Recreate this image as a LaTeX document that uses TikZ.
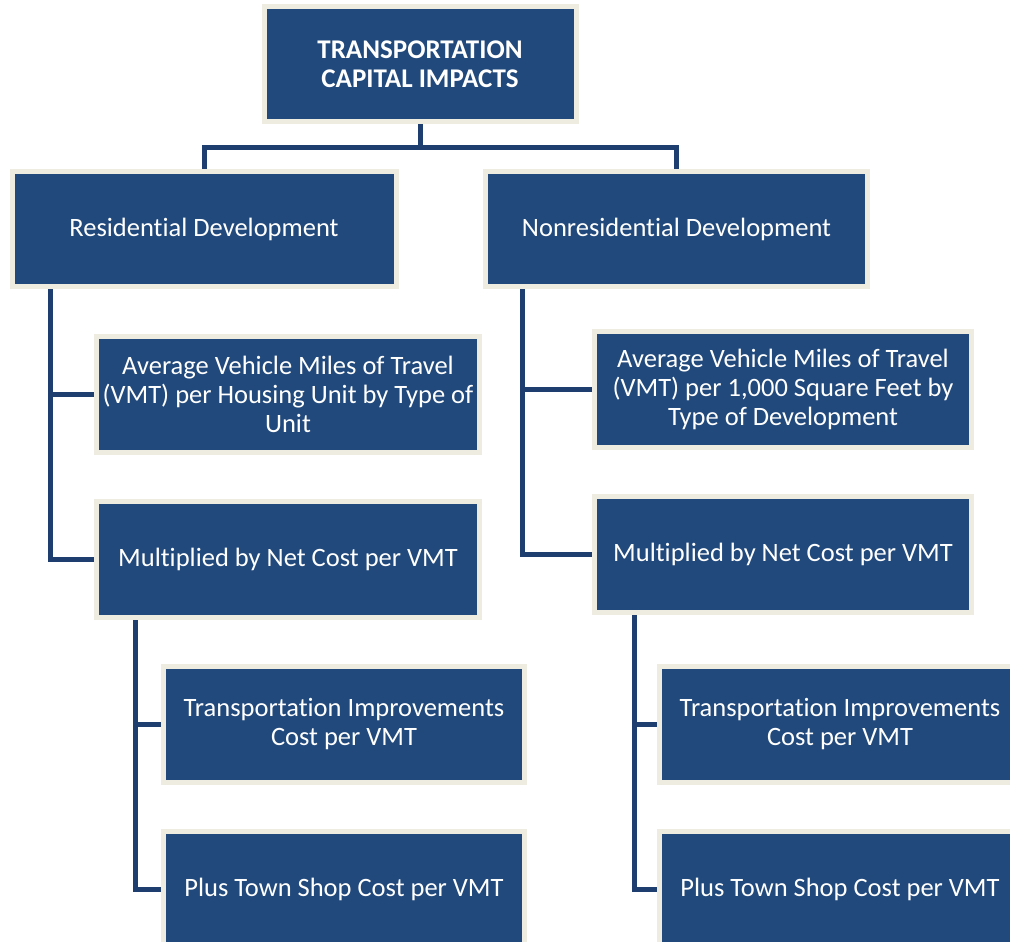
\documentclass[tikz,border=0pt]{standalone}
\usepackage{fontspec}
\setmainfont{Carlito}[RawFeature={-liga;-clig;-calt;-dlig}]
\usetikzlibrary{backgrounds}
\definecolor{boxblue}{RGB}{33,73,124}
\definecolor{boxrim}{RGB}{238,236,225}
\definecolor{linkblue}{RGB}{30,62,112}
\begin{document}
\begin{tikzpicture}[x=1pt,y=-1pt,
  box/.style={draw=boxrim, line width=5pt, fill=boxblue, text=white, align=center, inner sep=0pt,
    font=\fontsize{26.5}{29}\selectfont},
  titlebox/.style={box, font=\fontsize{27}{28.5}\selectfont\bfseries},
  link/.style={draw=linkblue, line width=5pt}]
\useasboundingbox (0,0) rectangle (1010,942);
\clip (0,0) rectangle (1010,942);

\node[titlebox, minimum width=312pt, minimum height=115.5pt] (top) at (420,64) {TRANSPORTATION\\CAPITAL IMPACTS};

\node[box, minimum width=384pt, minimum height=115.5pt] (res) at (204,229) {Residential Development};
\node[box, minimum width=382pt, minimum height=115.5pt] (nonres) at (676.5,229) {Nonresidential Development};

\node[box, minimum width=383pt, minimum height=116pt] (vmtL) at (288,394.5) {Average Vehicle Miles of Travel\\(VMT) per Housing Unit by Type of\\Unit};
\node[box, minimum width=383pt, minimum height=116pt] (mulL) at (288,559.5) {Multiplied by Net Cost per VMT};

\node[box, minimum width=377pt, minimum height=116pt] (vmtR) at (783,389.5) {Average Vehicle Miles of Travel\\(VMT) per 1,000 Square Feet by\\Type of Development};
\node[box, minimum width=377pt, minimum height=116pt] (mulR) at (783,554.5) {Multiplied by Net Cost per VMT};

\node[box, minimum width=361pt, minimum height=116pt] (trL) at (344,724.5) {Transportation Improvements\\Cost per VMT};
\node[box, minimum width=361pt, minimum height=116pt] (plL) at (344,889.5) {Plus Town Shop Cost per VMT};

\node[box, minimum width=361pt, minimum height=116pt] (trR) at (840,724.5) {Transportation Improvements\\Cost per VMT};
\node[box, minimum width=361pt, minimum height=116pt] (plR) at (840,889.5) {Plus Town Shop Cost per VMT};

\coordinate (hb) at (0,147);
\coordinate (sL) at (50,0);
\coordinate (sR) at (522,0);
\coordinate (tL) at (135,0);
\coordinate (tR) at (634,0);

\begin{pgfonlayer}{background}
  \draw[link] (top.south) -- (top.south |- hb);
  \draw[link] (res.north) |- (hb -| nonres.north) -- (nonres.north);
  \draw[link] (res.south -| sL) |- (vmtL.west);
  \draw[link] (res.south -| sL) |- (mulL.west);
  \draw[link] (nonres.south -| sR) |- (vmtR.west);
  \draw[link] (nonres.south -| sR) |- (mulR.west);
  \draw[link] (mulL.south -| tL) |- (trL.west);
  \draw[link] (mulL.south -| tL) |- (plL.west);
  \draw[link] (mulR.south -| tR) |- (trR.west);
  \draw[link] (mulR.south -| tR) |- (plR.west);
\end{pgfonlayer}
\end{tikzpicture}
\end{document}
